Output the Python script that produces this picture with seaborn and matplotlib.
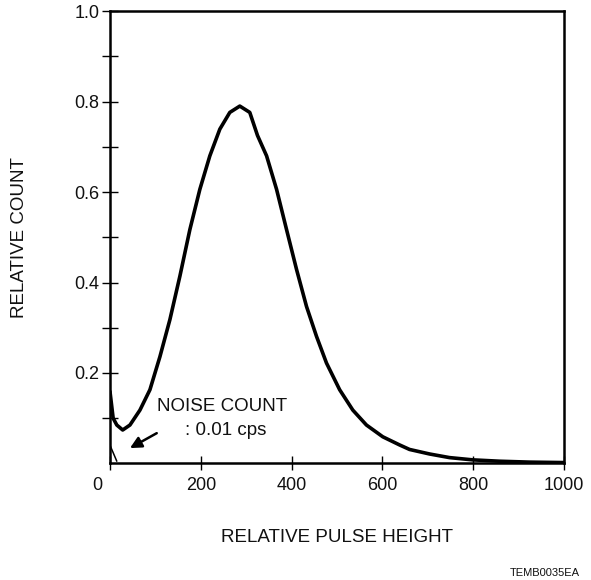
import numpy as np
import pandas as pd
import matplotlib
matplotlib.use("Agg")
import matplotlib.pyplot as plt
import matplotlib.transforms as mtransforms
import seaborn as sns

sns.set_style('ticks')
plt.rcParams['font.family'] = ['Liberation Sans', 'DejaVu Sans']

# pulse height distribution
pulse_height = [0, 7, 15, 28, 44, 66, 88, 110, 132, 154, 176, 198, 220, 242,
                264, 286, 308, 325, 345, 367, 389, 411, 433, 455, 477, 506,
                535, 565, 601, 638, 660, 704, 748, 799, 858, 924, 1000]
relative_count = [0.159, 0.100, 0.085, 0.074, 0.085, 0.118, 0.163, 0.236,
                  0.318, 0.414, 0.517, 0.606, 0.680, 0.739, 0.776, 0.790,
                  0.776, 0.725, 0.680, 0.606, 0.517, 0.429, 0.347, 0.281,
                  0.222, 0.163, 0.118, 0.085, 0.059, 0.041, 0.031, 0.021,
                  0.013, 0.008, 0.005, 0.003, 0.002]

# noise count trace
noise_height = [1, 15]
noise_count = [0.038, 0.005]

x_ticks = [0, 200, 400, 600, 800, 1000]
y_ticks = [0.2, 0.4, 0.6, 0.8, 1.0]
y_minor = [0.1, 0.3, 0.5, 0.7, 0.9]

df = pd.DataFrame({'height': pulse_height, 'count': relative_count})
df_noise = pd.DataFrame({'height': noise_height, 'count': noise_count})

fig = plt.figure(figsize=(5.91, 5.80), dpi=100)
ax = fig.add_axes([0.1861, 0.2009, 0.768, 0.780])

sns.lineplot(data=df, x='height', y='count', ax=ax, color='black', lw=2.6)
sns.lineplot(data=df_noise, x='height', y='count', ax=ax, color='black', lw=1.1)

ax.set_xlim(0, 1000)
ax.set_ylim(0, 1.0)
ax.set_xticks(x_ticks)
ax.set_yticks(y_ticks)
ax.set_yticklabels([f'{v:.1f}' for v in y_ticks])
ax.set_yticks(y_minor, minor=True)

for s in ax.spines.values():
    s.set_linewidth(1.8)
    s.set_color('black')

ax.tick_params(axis='y', which='both', direction='inout', length=11, width=1,
               labelsize=13, pad=2, colors='black', labelcolor='#111111')
ax.tick_params(axis='x', which='both', direction='inout', length=10, width=1,
               labelsize=13, pad=5, colors='black', labelcolor='#111111')

# the "0" label sits a little left of the corner in the original
lbl0 = ax.get_xticklabels()[0]
lbl0.set_transform(lbl0.get_transform() +
                   mtransforms.ScaledTranslation(-13 / 100, 0, fig.dpi_scale_trans))

ax.set_xlabel('RELATIVE PULSE HEIGHT', fontsize=13.5, color='#111111')
ax.set_ylabel('RELATIVE COUNT', fontsize=13.5, color='#111111')
ax.xaxis.set_label_coords(0.5, -0.145)
ax.yaxis.set_label_coords(-0.18, 0.5)

ax.text(248, 0.126, 'NOISE COUNT', fontsize=13.5, ha='center', va='center', color='#111111')
ax.text(255, 0.074, ': 0.01 cps', fontsize=13.5, ha='center', va='center', color='#111111')
ax.annotate('', xy=(44, 0.034), xytext=(103, 0.067),
            arrowprops=dict(arrowstyle='-|>', color='black', lw=1.8,
                            mutation_scale=17, shrinkA=0, shrinkB=0))

fig.text(0.981, 0.012, 'TEMB0035EA', fontsize=8, ha='right', va='center', color='#111111')

fig.savefig('out.png', dpi=100, facecolor='white')
